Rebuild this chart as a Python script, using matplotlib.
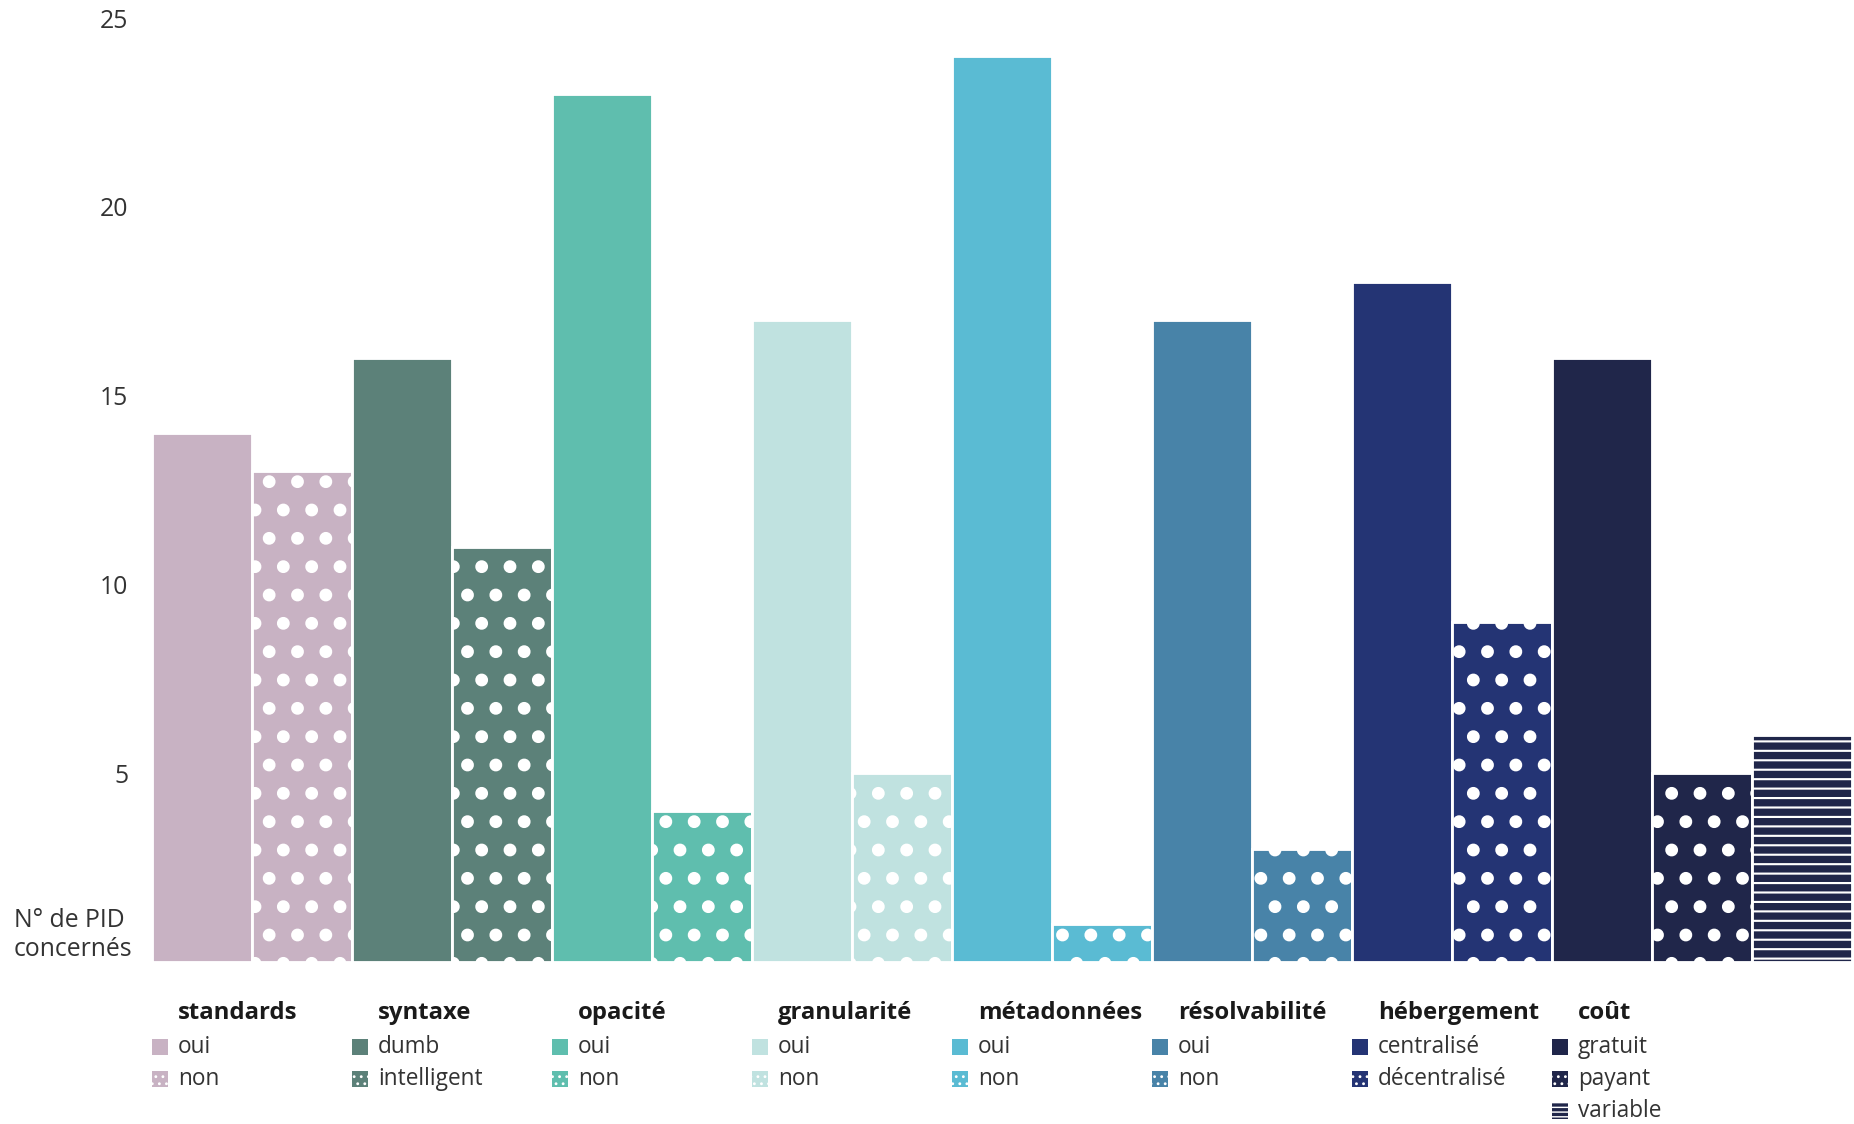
import matplotlib.pyplot as plt
from matplotlib.patches import Rectangle

# criteria, the answers for each one and the number of PIDs
groups = ["standards", "syntaxe", "opacité", "granularité",
          "métadonnées", "résolvabilité", "hébergement", "coût"]
options = [["oui", "non"], ["dumb", "intelligent"], ["oui", "non"],
           ["oui", "non"], ["oui", "non"], ["oui", "non"],
           ["centralisé", "décentralisé"], ["gratuit", "payant", "variable"]]
counts = [[14, 13], [16, 11], [23, 4], [17, 5],
          [24, 1], [17, 3], [18, 9], [16, 5, 6]]
colors = ["#c8b2c3", "#5c8179", "#5fbeae", "#c0e2e0",
          "#5abbd3", "#4883a8", "#243474", "#20264a"]
yticks = [5, 10, 15, 20, 25]

# 1st answer plain, 2nd dotted, 3rd lined
bar_hatch = [None, ".", "---"]
swatch_hatch = [None, "....", "------"]

DPI = 170
W, H = 1854, 1124
plt.rcParams['font.family'] = ['Open Sans', 'DejaVu Sans']
plt.rcParams['hatch.linewidth'] = 3.0

fig = plt.figure(figsize=(W / DPI, H / DPI), dpi=DPI, facecolor="white")
ax = fig.add_axes([152 / W, 162 / H, 1700 / W, 944 / H])

x = 0
starts = []
for gi, grp in enumerate(groups):
   starts.append(x)
   for j, val in enumerate(counts[gi]):
      b = ax.bar(x, val, width=1.0, color=colors[gi], edgecolor="white",
                 linewidth=1.2, hatch=bar_hatch[j])
      if j == 2:
         for p in b:
            if hasattr(p, "set_hatch_linewidth"):
               p.set_hatch_linewidth(0.9)
      x += 1

ax.set_xlim(-0.5, x - 0.5)
ax.set_ylim(0, 25)
for s in ax.spines.values():
   s.set_visible(False)
ax.set_xticks([])
ax.set_yticks(yticks)
ax.set_yticklabels([str(t) for t in yticks], fontsize=10.5, color="#333333")
ax.tick_params(axis="y", length=0, pad=10)

fig.text(14 / W, 1 - 935 / H, "N° de PID\nconcernés", ha="left", va="center",
         fontsize=10.5, color="#333333", linespacing=1.25)

# legend under each group of bars
unit = 944 / 25.0   # pixels per count
def py(pix):
   # pixel row of the reference -> data y
   return (962 - pix) / unit

title_y = py(1013)
item_y = [py(1047), py(1079), py(1111)]
sw = 0.16
sh = 16 / unit
for gi, grp in enumerate(groups):
   left = starts[gi] - 0.5
   ax.text(left + 0.26, title_y, grp, fontsize=10.1, fontweight="bold",
           color="#1a1a1a", ha="left", va="center", clip_on=False)
   for j, opt in enumerate(options[gi]):
      r = Rectangle((left, item_y[j] - sh / 2), sw, sh, facecolor=colors[gi],
                    edgecolor="white", linewidth=0, hatch=swatch_hatch[j],
                    clip_on=False)
      if j > 0 and hasattr(r, "set_hatch_linewidth"):
         r.set_hatch_linewidth(0.6)
      ax.add_patch(r)
      ax.text(left + 0.26, item_y[j], opt, fontsize=9.6, color="#333333",
              ha="left", va="center", clip_on=False)

fig.savefig("out.png", dpi=DPI, facecolor="white")
